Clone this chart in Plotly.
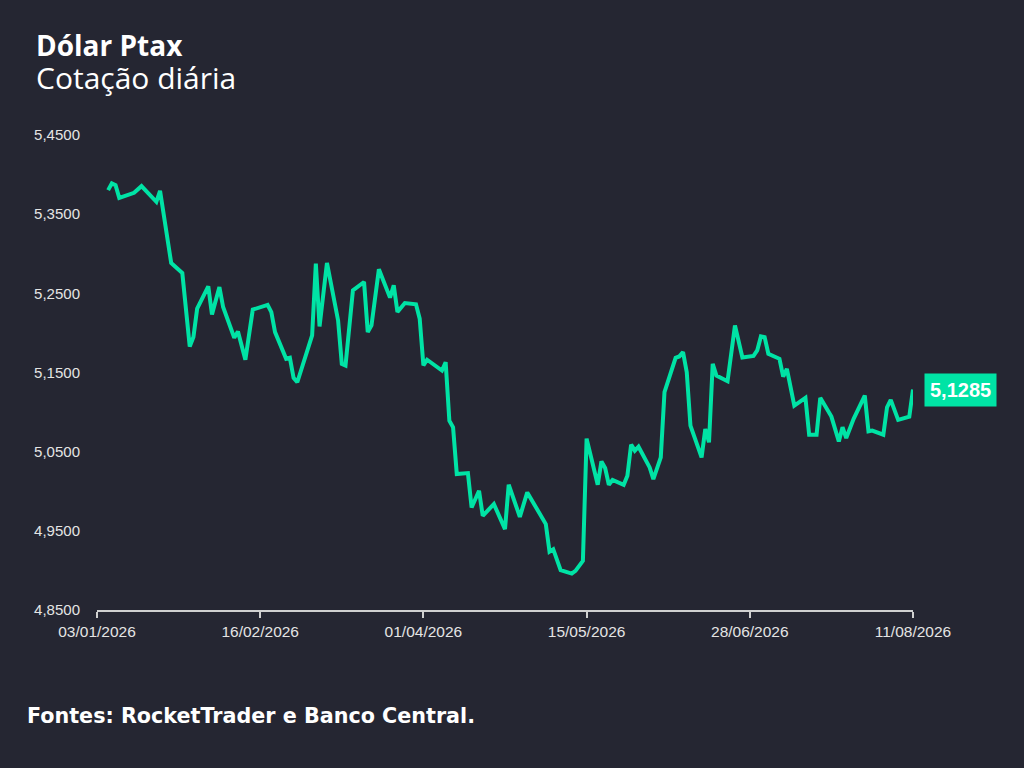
import plotly.graph_objects as go

# Ptax daily quotes
dates = [
    "2026-01-06", "2026-01-07", "2026-01-08", "2026-01-09", "2026-01-13", "2026-01-15",
    "2026-01-19", "2026-01-20", "2026-01-23", "2026-01-26", "2026-01-28", "2026-01-29",
    "2026-01-30", "2026-02-02", "2026-02-03", "2026-02-05", "2026-02-06", "2026-02-09",
    "2026-02-10", "2026-02-12", "2026-02-14", "2026-02-18", "2026-02-19", "2026-02-20",
    "2026-02-23", "2026-02-24", "2026-02-25", "2026-02-26", "2026-03-02", "2026-03-03",
    "2026-03-04", "2026-03-06", "2026-03-09", "2026-03-10", "2026-03-11", "2026-03-13",
    "2026-03-16", "2026-03-17", "2026-03-18", "2026-03-20", "2026-03-23", "2026-03-24",
    "2026-03-25", "2026-03-27", "2026-03-30", "2026-03-31", "2026-04-01", "2026-04-02",
    "2026-04-06", "2026-04-07", "2026-04-08", "2026-04-09", "2026-04-10", "2026-04-13",
    "2026-04-14", "2026-04-16", "2026-04-17", "2026-04-20", "2026-04-23", "2026-04-24",
    "2026-04-27", "2026-04-29", "2026-05-04", "2026-05-05", "2026-05-06", "2026-05-08",
    "2026-05-11", "2026-05-12", "2026-05-14", "2026-05-15", "2026-05-18", "2026-05-19",
    "2026-05-20", "2026-05-21", "2026-05-22", "2026-05-25", "2026-05-26", "2026-05-27",
    "2026-05-28", "2026-05-29", "2026-06-01", "2026-06-02", "2026-06-04", "2026-06-05",
    "2026-06-08", "2026-06-09", "2026-06-10", "2026-06-11", "2026-06-12", "2026-06-15",
    "2026-06-16", "2026-06-17", "2026-06-18", "2026-06-19", "2026-06-22", "2026-06-24",
    "2026-06-26", "2026-06-29", "2026-06-30", "2026-07-01", "2026-07-02", "2026-07-03",
    "2026-07-06", "2026-07-07", "2026-07-08", "2026-07-10", "2026-07-13", "2026-07-14",
    "2026-07-16", "2026-07-17", "2026-07-20", "2026-07-22", "2026-07-23", "2026-07-24",
    "2026-07-26", "2026-07-29", "2026-07-30", "2026-07-31", "2026-08-03", "2026-08-04",
    "2026-08-05", "2026-08-07", "2026-08-10", "2026-08-11",
]

ptax = [
    5.3804, 5.3889, 5.3867, 5.3706, 5.3770, 5.3854,
    5.3656, 5.3795, 5.2884, 5.2757, 5.1829, 5.1947,
    5.2306, 5.2589, 5.2234, 5.2580, 5.2327, 5.1939,
    5.2019, 5.1661, 5.2294, 5.2354, 5.2263, 5.2010,
    5.1673, 5.1686, 5.1433, 5.1377, 5.1968, 5.2876,
    5.2082, 5.2884, 5.2158, 5.1610, 5.1589, 5.2538,
    5.2643, 5.2010, 5.2095, 5.2804, 5.2446, 5.2601,
    5.2263, 5.2377, 5.2361, 5.2180, 5.1589, 5.1661,
    5.1525, 5.1630, 5.0892, 5.0808, 5.0218, 5.0230,
    4.9795, 5.0006, 4.9690, 4.9838, 4.9522, 5.0082,
    4.9677, 4.9985, 4.9585, 4.9238, 4.9268, 4.9003,
    4.8959, 4.8994, 4.9120, 5.0665, 5.0082, 5.0377,
    5.0294, 5.0082, 5.0142, 5.0082, 5.0196, 5.0589,
    5.0513, 5.0563, 5.0301, 5.0154, 5.0428, 5.1251,
    5.1686, 5.1703, 5.1757, 5.1504, 5.0829, 5.0428,
    5.0787, 5.0618, 5.1610, 5.1462, 5.1390, 5.2095,
    5.1690, 5.1709, 5.1778, 5.1956, 5.1947, 5.1737,
    5.1673, 5.1449, 5.1547, 5.1082, 5.1180, 5.0715,
    5.0715, 5.1180, 5.0943, 5.0630, 5.0808, 5.0673,
    5.0914, 5.1209, 5.0757, 5.0766, 5.0715, 5.1061,
    5.1154, 5.0901, 5.0943, 5.1285,
]

x_ticks = ["2026-01-03", "2026-02-16", "2026-04-01", "2026-05-15", "2026-06-28", "2026-08-11"]
y_ticks = [4.85, 4.95, 5.05, 5.15, 5.25, 5.35, 5.45]

BG = "#252632"
GREEN = "#00e3a5"
AXIS_TXT = "#e4e4e4"

fig = go.Figure()
fig.add_trace(go.Scatter(
    x=dates,
    y=ptax,
    mode="lines",
    line=dict(color=GREEN, width=4),
    hoverinfo="x+y",
))

# last value tag
fig.add_annotation(
    x=dates[-1], y=ptax[-1], xref="x", yref="y",
    text="<b>%s</b>" % f"{ptax[-1]:.4f}".replace(".", ","),
    showarrow=False, xanchor="left", yanchor="middle", xshift=11,
    font=dict(family="Liberation Sans, Arial", size=20, color="white"),
    bgcolor=GREEN, borderpad=5,
)

# header (title + subtitle in one block) and footer
fig.add_annotation(
    x=-0.077, y=1.153, xref="paper", yref="paper", xanchor="left", yanchor="middle",
    align="left",
    text="<span style='font-size:28px'><b>Dólar Ptax</b></span><br>"
         "<span style='font-size:30px'>Cotação diária</span>",
    showarrow=False,
    font=dict(family="Open Sans", size=25.5, color="white"),
)
fig.add_annotation(
    x=-0.088, y=-0.223, xref="paper", yref="paper", xanchor="left", yanchor="middle",
    text="<b>Fontes: RocketTrader e Banco Central.</b>", showarrow=False,
    font=dict(family="DejaVu Sans", size=20.7, color="white"),
)

fig.update_layout(
    width=1024,
    height=768,
    margin=dict(l=97, r=111, t=135, b=158),
    paper_bgcolor=BG,
    plot_bgcolor=BG,
    separators=",.",
    showlegend=False,
    font=dict(family="Liberation Sans, Arial", size=15, color=AXIS_TXT),
)
fig.update_xaxes(
    range=[x_ticks[0], x_ticks[-1]],
    tickvals=x_ticks,
    tickformat="%d/%m/%Y",
    showgrid=False,
    zeroline=False,
    showline=True,
    linecolor="#d0d0d0",
    linewidth=2,
    ticks="outside",
    ticklen=6,
    tickwidth=2,
    tickcolor="#d0d0d0",
    tickfont=dict(size=15.5, color=AXIS_TXT),
)
fig.update_yaxes(
    range=[y_ticks[0], y_ticks[-1]],
    tickvals=y_ticks,
    tickformat=".4f",
    showgrid=False,
    zeroline=False,
    showline=False,
    ticks="",
    ticklabelstandoff=16,
    tickfont=dict(size=15, color=AXIS_TXT),
)

# drop the default page margin so the figure sits at the window corner
fig.write_html(
    "out.html",
    config={"displayModeBar": False},
    post_script="document.body.style.margin='0';",
)
